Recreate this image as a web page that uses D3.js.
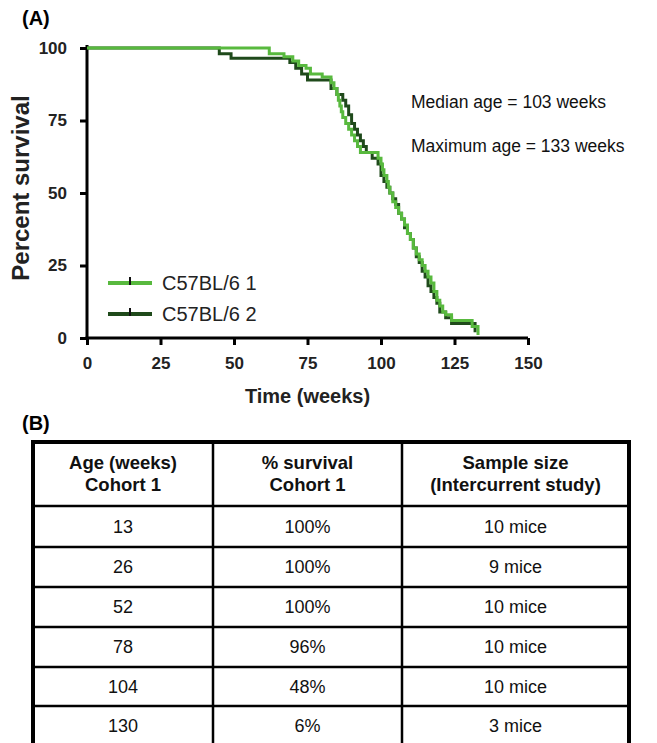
<!DOCTYPE html>
<html>
<head>
<meta charset="utf-8">
<script src="https://cdn.jsdelivr.net/npm/d3@7"></script>
<style>
  body { margin: 0; background: #fff; }
  svg { display: block; font-family: "Liberation Sans", Arial, sans-serif; }
</style>
</head>
<body>
<svg id="chart" width="657" height="743"></svg>
<script>
// survival curves (weeks at which the step happens, % surviving afterwards)
var weeks1 = [0, 62, 67, 70, 72, 74.5, 76, 80, 83, 84, 85, 85.5, 86, 86.5, 87, 88, 89, 90, 91, 92, 93, 99, 100, 100.5, 101, 102, 102.5, 103, 104, 105, 106, 107, 108, 109, 110, 111, 112, 113, 114, 115, 116, 117, 118, 119, 120, 121, 122, 124, 131, 133];
var surv1  = [100, 98, 97, 95.5, 94, 93, 91, 90, 88, 86, 84, 82, 80, 78, 76, 74, 72, 70, 68, 66, 64, 62, 60, 58, 56, 54, 52, 50, 47, 45, 43, 41, 39, 36, 34, 31, 29, 27, 25, 23, 21, 19, 16, 13, 11, 9, 8, 6, 4, 1];
var weeks2 = [0, 45, 49, 69, 71, 73, 75, 83, 85, 87, 88, 89, 90, 91, 92, 93, 94, 95, 97, 99, 100, 101, 102, 103, 104, 105, 106, 107, 108, 109, 110, 111, 112, 113, 114, 115, 116, 117, 118, 119, 120, 122, 124, 132];
var surv2  = [100, 98, 96.5, 95, 93, 91, 89, 86, 84, 82, 80, 77, 74, 72, 70, 68, 66, 64, 62, 60, 56, 54, 52, 50, 48, 46, 43, 41, 38, 36, 34, 31, 28, 26, 23, 21, 18, 16, 14, 12, 9, 7, 5, 2];
var seriesNames = ["C57BL/6 1", "C57BL/6 2"];
var seriesColors = ["#58b93e", "#1f4a1b"];
var xTicks = [0, 25, 50, 75, 100, 125, 150];
var yTicks = [0, 25, 50, 75, 100];
var notes = ["Median age = 103 weeks", "Maximum age = 133 weeks"];

// table
var tableHeader = [["Age (weeks)", "Cohort 1"], ["% survival", "Cohort 1"], ["Sample size", "(Intercurrent study)"]];
var tableAge = ["13", "26", "52", "78", "104", "130"];
var tableSurvival = ["100%", "100%", "100%", "96%", "48%", "6%"];
var tableSample = ["10 mice", "9 mice", "10 mice", "10 mice", "10 mice", "3 mice"];

var svg = d3.select("#chart");

var x = d3.scaleLinear().domain([0, 150]).range([87, 528]);
var y = d3.scaleLinear().domain([0, 100]).range([338, 48]);

svg.append("text").attr("x", 22).attr("y", 25)
  .attr("font-size", 20).attr("font-weight", "bold").text("(A)");

// axes
var yAxis = svg.append("g").attr("transform", "translate(" + x(0) + ",0)")
  .call(d3.axisLeft(y).tickValues(yTicks).tickSize(7).tickPadding(13));
var xAxis = svg.append("g").attr("transform", "translate(0," + y(0) + ")")
  .call(d3.axisBottom(x).tickValues(xTicks).tickSize(7).tickPadding(12));

[xAxis, yAxis].forEach(function (g) {
  g.select(".domain").attr("stroke", "#000").attr("stroke-width", 3);
  g.selectAll(".tick line").attr("stroke", "#000").attr("stroke-width", 3);
  g.selectAll(".tick text").attr("fill", "#222").attr("font-size", 17)
    .attr("font-weight", "bold").attr("font-family", "Liberation Sans, Arial, sans-serif");
});
yAxis.select(".domain").attr("d", "M0," + (y(100) - 3) + "V" + (y(0) + 1.5));
xAxis.select(".domain").attr("d", "M" + (x(0) - 1.5) + ",0H" + x(150));

svg.append("text")
  .attr("transform", "translate(29," + 188 + ") rotate(-90)")
  .attr("text-anchor", "middle").attr("font-size", 24).attr("font-weight", "bold")
  .attr("fill", "#222").text("Percent survival");
svg.append("text").attr("x", (x(0) + x(150)) / 2).attr("y", 403)
  .attr("text-anchor", "middle").attr("font-size", 20).attr("font-weight", "bold")
  .attr("fill", "#222").text("Time (weeks)");

// curves
var line = d3.line().x(function (d) { return x(d[0]); }).y(function (d) { return y(d[1]); })
  .curve(d3.curveStepAfter);
var series = [d3.zip(weeks2, surv2), d3.zip(weeks1, surv1)];
var colors = [seriesColors[1], seriesColors[0]];
series.forEach(function (pts, i) {
  svg.append("path").datum(pts).attr("d", line)
    .attr("fill", "none").attr("stroke", colors[i]).attr("stroke-width", 3);
});

// notes
notes.forEach(function (t, i) {
  svg.append("text").attr("x", 411).attr("y", 108 + i * 44)
    .attr("font-size", 17.5).attr("fill", "#111").text(t);
});

// legend
seriesNames.forEach(function (name, i) {
  var ly = 283 + i * 31;
  svg.append("line").attr("x1", 108).attr("x2", 152).attr("y1", ly).attr("y2", ly)
    .attr("stroke", seriesColors[i]).attr("stroke-width", 4);
  svg.append("line").attr("x1", 130).attr("x2", 130).attr("y1", ly - 6).attr("y2", ly + 2)
    .attr("stroke", "#111").attr("stroke-width", 2);
  svg.append("text").attr("x", 162).attr("y", ly + 7)
    .attr("font-size", 20).attr("fill", "#222").text(name);
});

// table (B)
svg.append("text").attr("x", 22).attr("y", 430)
  .attr("font-size", 20).attr("font-weight", "bold").text("(B)");

var colEdges = [33, 213, 402, 629];
var rowEdges = [442, 506, 547, 587, 627, 667, 706, 745];
var rows = d3.range(tableAge.length).map(function (i) {
  return [tableAge[i], tableSurvival[i], tableSample[i]];
});

var tbl = svg.append("g");
rowEdges.slice(1, -1).forEach(function (ry) {
  tbl.append("line").attr("x1", colEdges[0]).attr("x2", colEdges[3]).attr("y1", ry).attr("y2", ry)
    .attr("stroke", "#000").attr("stroke-width", 2.5);
});
colEdges.slice(1, -1).forEach(function (cx) {
  tbl.append("line").attr("x1", cx).attr("x2", cx).attr("y1", rowEdges[0]).attr("y2", rowEdges[7])
    .attr("stroke", "#000").attr("stroke-width", 2.5);
});
tbl.append("rect").attr("x", colEdges[0]).attr("y", rowEdges[0])
  .attr("width", colEdges[3] - colEdges[0]).attr("height", rowEdges[7] - rowEdges[0])
  .attr("fill", "none").attr("stroke", "#000").attr("stroke-width", 4);

tableHeader.forEach(function (lines, c) {
  var cx = (colEdges[c] + colEdges[c + 1]) / 2;
  lines.forEach(function (t, k) {
    tbl.append("text").attr("x", cx).attr("y", 469 + k * 22)
      .attr("text-anchor", "middle").attr("font-size", 18.5).attr("font-weight", "bold")
      .attr("fill", "#111").text(t);
  });
});
rows.forEach(function (r, i) {
  var cy = (rowEdges[i + 1] + rowEdges[i + 2]) / 2;
  r.forEach(function (t, c) {
    tbl.append("text").attr("x", (colEdges[c] + colEdges[c + 1]) / 2).attr("y", cy + 6)
      .attr("text-anchor", "middle").attr("font-size", 18).attr("fill", "#111").text(t);
  });
});
</script>
</body>
</html>
